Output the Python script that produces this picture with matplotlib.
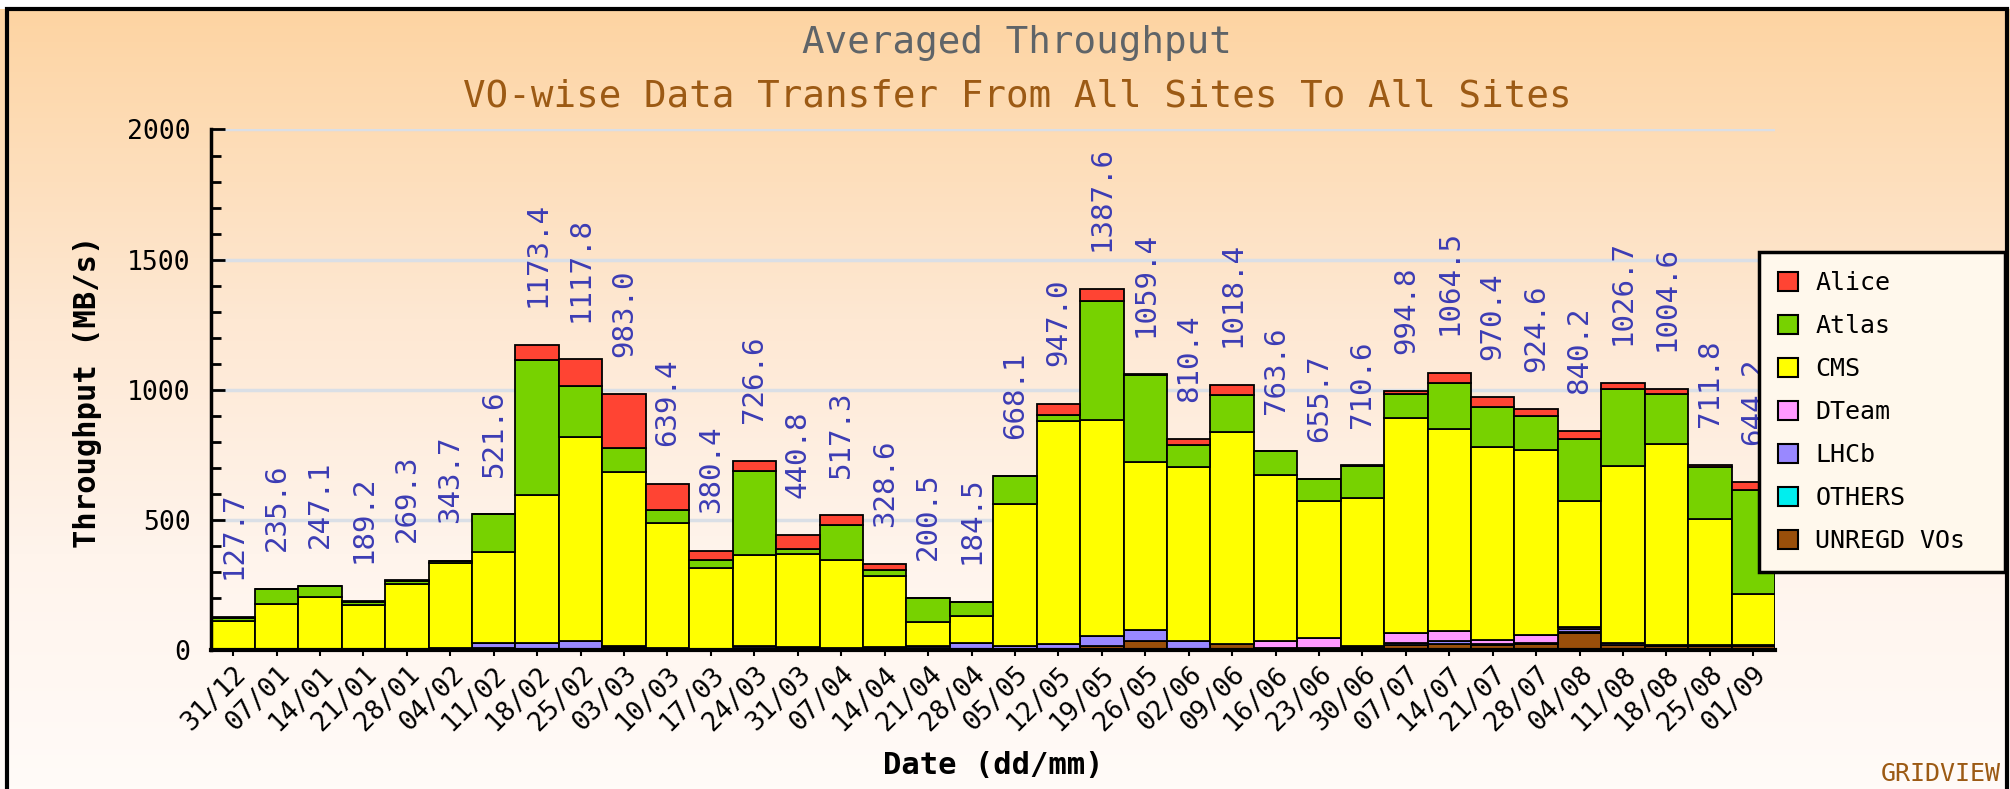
import numpy as np
import matplotlib
matplotlib.use("Agg")
import matplotlib.pyplot as plt
from matplotlib.patches import Patch, Rectangle
from matplotlib.colors import LinearSegmentedColormap

plt.rcParams['font.family'] = ['DejaVu Sans Mono']

# weekly dates (dd/mm)
dates = ['31/12', '07/01', '14/01', '21/01', '28/01', '04/02', '11/02', '18/02',
         '25/02', '03/03', '10/03', '17/03', '24/03', '31/03', '07/04', '14/04',
         '21/04', '28/04', '05/05', '12/05', '19/05', '26/05', '02/06', '09/06',
         '16/06', '23/06', '30/06', '07/07', '14/07', '21/07', '28/07', '04/08',
         '11/08', '18/08', '25/08', '01/09']

totals = [127.7, 235.6, 247.1, 189.2, 269.3, 343.7, 521.6, 1173.4, 1117.8, 983.0,
          639.4, 380.4, 726.6, 440.8, 517.3, 328.6, 200.5, 184.5, 668.1, 947.0,
          1387.6, 1059.4, 810.4, 1018.4, 763.6, 655.7, 710.6, 994.8, 1064.5, 970.4,
          924.6, 840.2, 1026.7, 1004.6, 711.8, 644.2]

# per-VO throughput (MB/s)
unregd = [0, 0, 0, 0, 0, 3, 6, 5, 5, 10, 5, 3, 8, 6, 3, 2, 8, 4, 4, 4,
          15, 35, 5, 24, 5, 4, 10, 18, 24, 18, 22, 65, 18, 16, 16, 16]
others = [0, 0, 0, 0, 0, 0, 0, 0, 0, 0, 0, 0, 0, 0, 0, 0, 0, 0, 0, 0,
          0, 0, 0, 0, 0, 0, 0, 0, 0, 0, 0, 4, 0, 0, 0, 0]
lhcb = [0, 0, 0, 0, 0, 3, 20, 20, 30, 5, 3, 2, 8, 4, 3, 2, 6, 24, 10, 20,
        38, 42, 28, 0, 4, 3, 5, 10, 12, 6, 5, 10, 10, 2, 3, 2]
dteam = [0, 0, 0, 0, 0, 0, 0, 0, 0, 0, 0, 0, 0, 0, 0, 8, 0, 0, 0, 0,
         0, 0, 0, 0, 25, 38, 0, 38, 38, 14, 30, 8, 0, 0, 0, 0]
cms = [111.0, 176.0, 205.0, 174.0, 255.0, 328.0, 350.0, 570.0, 785.0, 670.0,
       480.0, 310.0, 350.0, 358.0, 340.0, 272.0, 95.0, 102.0, 548.0, 857.0,
       829.0, 647.0, 672.0, 815.0, 640.0, 527.0, 570.0, 826.0, 775.0, 742.0,
       712.0, 486.0, 678.0, 773.0, 485.0, 198.0]
atlas = [10.0, 59.6, 42.1, 10.0, 9.0, 6.0, 145.6, 520.0, 195.0, 93.0,
         51.0, 32.0, 320.0, 20.0, 135.0, 22.0, 91.5, 54.5, 106.1, 22.0,
         459.0, 332.0, 83.0, 142.0, 89.6, 83.7, 123.6, 92.0, 175.0, 154.0,
         130.0, 236.0, 298.0, 194.0, 198.0, 398.0]
alice = [6.7, 0, 0, 5.2, 5.3, 3.7, 0, 58.4, 102.8, 205.0,
         100.4, 33.4, 40.6, 52.8, 36.3, 22.6, 0, 0, 0, 44.0,
         46.6, 3.4, 22.4, 37.4, 0, 0, 2.0, 10.8, 40.5, 36.4,
         25.6, 31.2, 22.7, 19.6, 9.8, 30.2]

vo_names = ['Alice', 'Atlas', 'CMS', 'DTeam', 'LHCb', 'OTHERS', 'UNREGD VOs']
vo_colors = ['#FF4433', '#77D200', '#FFFF00', '#FF99FF', '#9988FF', '#00EEEE', '#9A4F0A']

fig = plt.figure(figsize=(20.1, 7.89), dpi=100)

# peach -> white background gradient inside the frame
bg = fig.add_axes([0, 0, 1, 0.9886], zorder=-1)
cmap = LinearSegmentedColormap.from_list(
    'bg', [(0.0, '#FFFBF8'), (0.3, '#FFF4EC'), (0.6, '#FEE8D3'), (1.0, '#FDD4A2')])
grad = np.linspace(0, 1, 256).reshape(-1, 1)
bg.imshow(grad, aspect='auto', cmap=cmap, origin='lower', extent=[0, 1, 0, 1])
bg.set_xlim(0, 1)
bg.set_ylim(0, 1)
bg.axis('off')

ax = fig.add_axes([0.1052, 0.1762, 0.7779, 0.6597])
ax.patch.set_alpha(0)

x = np.arange(len(dates))
stack = [unregd, others, lhcb, dteam, cms, atlas, alice]
stack_colors = vo_colors[::-1]
bottom = np.zeros(len(dates))
for vals, col in zip(stack, stack_colors):
    vals = np.array(vals, dtype=float)
    ax.bar(x, vals, width=1.0, bottom=bottom, color=col, edgecolor='black',
           linewidth=1.3, zorder=2)
    bottom += vals

for xi, t, tot in zip(x, totals, bottom):
    ax.annotate(f'{t:.1f}', (xi, tot), xytext=(0, 27), textcoords='offset points',
                rotation=90, ha='center', va='bottom', fontsize=21,
                color='#3C3CB4', zorder=3)

ax.set_xlim(-0.5, len(dates) - 0.5)
ax.set_ylim(0, 2000)
ax.set_yticks(np.arange(0, 2001, 500))
ax.set_yticks(np.arange(0, 2001, 100), minor=True)
ax.yaxis.grid(True, which='major', color='#DADFE6', linewidth=2.5, zorder=0)
ax.set_axisbelow(True)
ax.tick_params(axis='y', which='major', direction='in', length=10, width=2,
               labelsize=19, pad=15)
ax.tick_params(axis='y', which='minor', direction='in', length=7, width=2)
ax.set_xticks(x)
ax.set_xticklabels(dates, rotation=45, ha='right', va='top',
                   rotation_mode='anchor', fontsize=19)
ax.tick_params(axis='x', length=4, width=1.5, pad=4)
for s in ['top', 'right']:
    ax.spines[s].set_visible(False)
ax.spines['left'].set_linewidth(2.5)
ax.spines['bottom'].set_linewidth(3)

fig.text(0.506, 0.945, 'Averaged Throughput', ha='center', va='center',
         fontsize=27, color='#5F6468')
fig.text(0.506, 0.878, 'VO-wise Data Transfer From All Sites To All Sites',
         ha='center', va='center', fontsize=27, color='#9C5A14')
fig.text(0.0433, 0.504, 'Throughput (MB/s)', rotation=90, ha='center',
         va='center', fontsize=22, fontweight='bold')
fig.text(0.494, 0.030, 'Date (dd/mm)', ha='center', va='center', fontsize=22,
         fontweight='bold')
fig.text(0.9655, 0.019, 'GRIDVIEW', ha='center', va='center', fontsize=18,
         color='#9C5A14')

handles = [Patch(facecolor=c, edgecolor='black', linewidth=1.5) for c in vo_colors]
leg = ax.legend(handles, vo_names, loc='upper left',
                bbox_to_anchor=(0.8751, 0.28, 0.1224, 0.4006),
                bbox_transform=fig.transFigure, mode='expand',
                borderaxespad=0, fontsize=18, handlelength=0.8, handleheight=0.8,
                handletextpad=0.7, labelspacing=0.76, borderpad=0.75,
                fancybox=False, framealpha=1, facecolor='#FFF8EC',
                edgecolor='black')
leg.get_frame().set_linewidth(2.5)
leg.set_zorder(10)

fig.patches.append(Rectangle((0.0035, -0.01), 0.995, 0.9986, fill=False,
                             edgecolor='black', linewidth=3,
                             transform=fig.transFigure, zorder=20))

fig.savefig('out.png', dpi=100, facecolor='white')
